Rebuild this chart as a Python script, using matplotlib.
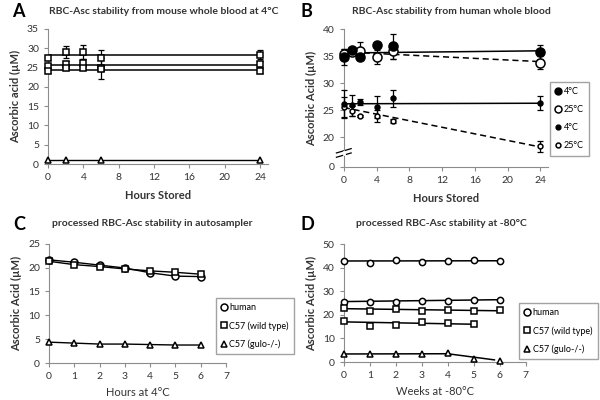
"""
RBC ascorbate stability, four panel figure.
"""

import matplotlib

matplotlib.use("Agg")
import matplotlib.pyplot as plt
from matplotlib.lines import Line2D

plt.rcParams["font.family"] = ["Lato", "DejaVu Sans"]

GRAY = "#8c8c8c"
TXT = "#333333"

# ---- panel A: mouse whole blood at 4 C
a_hours = [0, 2, 4, 6, 24]
a_sq1 = [27.6, 29.0, 29.0, 27.5, 28.3]
a_sq1_err = [0.6, 1.5, 1.8, 2.0, 1.2]
a_sq2 = [25.3, 25.8, 26.2, 24.8, 25.8]
a_sq2_err = [0.5, 0.8, 1.0, 2.7, 0.8]
a_sq3 = [24.0, 24.8, 25.0, 24.6, 24.2]
a_sq3_err = [0.5, 0.5, 0.6, 0.5, 0.5]
a_fit = [[28.2, 28.2], [25.6, 25.6], [24.3, 24.3]]
a_tri_hours = [0, 2, 6, 24]
a_tri = [1.0, 1.0, 1.0, 1.0]
a_ticks = [0, 4, 8, 12, 16, 20, 24]

# ---- panel B: human whole blood
b_hours = [0, 1, 2, 4, 6, 24]
b_big4 = [34.9, 36.1, 34.8, 37.0, 36.8, 35.7]
b_big4_err = [1.5, 0.3, 0.3, 0.3, 2.4, 1.3]
b_big25 = [35.5, 35.8, 36.0, 34.8, 35.9, 33.8]
b_big25_err = [0.8, 0.5, 1.6, 1.3, 1.5, 1.2]
b_small4 = [26.2, 25.9, 26.5, 25.6, 27.2, 26.3]
b_small4_err = [2.6, 2.0, 0.5, 2.1, 1.6, 1.3]
b_small25 = [25.6, 24.9, 24.0, 23.9, 23.0, 18.3]
b_small25_err = [1.8, 0.9, 0.2, 1.1, 0.3, 1.0]
b_fit_big4 = [35.6, 36.0]
b_fit_big25 = [35.8, 34.0]
b_fit_small4 = [26.2, 26.3]
b_fit_small25 = [25.5, 18.2]
b_yticks = [20, 25, 30, 35, 40]

# ---- panel C: autosampler
c_hours = [0, 1, 2, 3, 4, 5, 6]
c_human = [21.6, 21.1, 20.5, 19.9, 18.9, 18.2, 18.1]
c_wt = [21.3, 20.6, 20.2, 19.7, 19.3, 19.0, 18.6]
c_gulo = [4.4, 4.2, 4.0, 4.0, 3.9, 3.8, 3.8]

# ---- panel D: -80 C storage
d_weeks = [0, 1, 2, 3, 4, 5, 6]
d_human1 = [42.8, 41.8, 43.2, 42.5, 43.0, 43.2, 42.8]
d_human1_fit = [42.8, 42.9]
d_human2 = [25.3, 25.3, 25.5, 26.0, 25.8, 26.4, 26.4]
d_human2_fit = [25.6, 26.4]
d_wt1 = [23.0, 21.8, 22.3, 21.7, 22.0, 21.5, 22.0]
d_wt1_fit = [22.6, 21.7]
d_wt2_weeks = [0, 1, 2, 3, 4, 5]
d_wt2 = [17.2, 15.2, 15.8, 16.8, 16.5, 16.0]
d_wt2_fit = [17.0, 16.0]
d_gulo = [3.5, 3.4, 3.4, 3.5, 3.8, 1.3, 0.5]
d_gulo_line_weeks = [0, 4, 5.8]
d_gulo_line = [3.4, 3.5, 0.9]

legend_labels_cd = ["human", "C57 (wild type)", "C57 (gulo-/-)"]
legend_labels_b = ["4°C", "25°C", "4°C", "25°C"]


def style_axes(ax):
    for s in ("top", "right"):
        ax.spines[s].set_visible(False)
    for s in ("left", "bottom"):
        ax.spines[s].set_color(GRAY)
        ax.spines[s].set_linewidth(0.8)
    ax.tick_params(colors=GRAY, labelcolor=TXT, labelsize=7.5, length=3,
                   width=0.8, direction="out")


def pts(ax, x, y, marker, ms, fc="white", err=None, ls="none"):
    if err is not None:
        ax.errorbar(x, y, yerr=err, fmt="none", ecolor="black", elinewidth=0.9,
                    capsize=2, capthick=0.9, clip_on=False, zorder=3)
    ax.plot(x, y, linestyle=ls, marker=marker, ms=ms, mfc=fc, mec="black",
            mew=1.1, color="black", lw=1.0, clip_on=False, zorder=4)


def fit(ax, x, y, ls="-"):
    ax.plot(x, y, color="black", lw=1.1, zorder=2,
            dashes=(4, 2.5) if ls == "--" else (None, None))


fig = plt.figure(figsize=(6, 4), dpi=100)

# ---------------- A
axA = fig.add_axes([0.08, 0.59, 0.367, 0.3375])
style_axes(axA)
for f in a_fit:
    fit(axA, [a_hours[0], a_hours[-1]], f)
pts(axA, a_hours, a_sq1, "s", 4.5, err=a_sq1_err)
pts(axA, a_hours, a_sq2, "s", 4.5, err=a_sq2_err)
pts(axA, a_hours, a_sq3, "s", 4.5, err=a_sq3_err)
pts(axA, a_tri_hours, a_tri, "^", 5, ls="-")
axA.set_xlim(0, 24.9)
axA.set_ylim(0, 35)
axA.set_xticks(a_ticks)
axA.set_yticks(range(0, 36, 5))
axA.set_xlabel("Hours Stored", fontsize=8, fontweight="bold", color=TXT, labelpad=6)
axA.set_ylabel("Ascorbic acid (µM)", fontsize=8, fontweight="bold", color=TXT, labelpad=4)
fig.text(0.02, 0.972, "A", fontsize=13, fontweight="bold", va="center")
fig.text(0.272, 0.972, "RBC-Asc stability from mouse whole blood at 4°C",
         fontsize=7.5, fontweight="bold", ha="center", va="center", color=TXT)

# ---------------- B (broken y axis: 0 drawn at 14.5)
axB = fig.add_axes([0.573, 0.5825, 0.34, 0.3445])
style_axes(axB)
for f, ls in ((b_fit_big4, "-"), (b_fit_big25, "--"), (b_fit_small4, "-"), (b_fit_small25, "--")):
    fit(axB, [b_hours[0], b_hours[-1]], f, ls)
pts(axB, b_hours, b_big25, "o", 6.5, fc="white", err=b_big25_err)
pts(axB, b_hours, b_big4, "o", 6.5, fc="black", err=b_big4_err)
pts(axB, b_hours, b_small25, "o", 3.5, fc="white", err=b_small25_err)
pts(axB, b_hours, b_small4, "o", 3.5, fc="black", err=b_small4_err)
axB.set_xlim(0, 24.9)
axB.set_ylim(14.5, 40)
axB.set_xticks(a_ticks)
axB.set_yticks([14.5] + b_yticks)
axB.set_yticklabels(["0"] + [str(v) for v in b_yticks])
axB.set_xlabel("Hours Stored", fontsize=8, fontweight="bold", color=TXT, labelpad=6)
axB.set_ylabel("Ascorbic Acid (µM)", fontsize=8, fontweight="bold", color=TXT, labelpad=4)
# axis break marks
for yb in (16.7, 17.5):
    axB.plot([-0.9, 0.9], [yb - 0.4, yb + 0.4], color="black", lw=0.9, clip_on=False)
axB.plot([0, 0], [16.9, 17.3], color="white", lw=2, clip_on=False, zorder=5)
hB = [Line2D([], [], ls="none", marker="o", ms=5, mfc="black", mec="black"),
      Line2D([], [], ls="none", marker="o", ms=5, mfc="white", mec="black", mew=1.1),
      Line2D([], [], ls="none", marker="o", ms=3.5, mfc="black", mec="black"),
      Line2D([], [], ls="none", marker="o", ms=3.5, mfc="white", mec="black", mew=1.1)]
legB = axB.legend(hB, legend_labels_b, loc="upper left", bbox_to_anchor=(0.99, 0.65),
                  fontsize=6.5, frameon=True, fancybox=False, handlelength=0.6,
                  handletextpad=0.3, labelspacing=1.0, borderpad=0.6)
legB.get_frame().set_edgecolor(GRAY)
fig.text(0.5, 0.972, "B", fontsize=13, fontweight="bold", va="center")
fig.text(0.753, 0.97, "RBC-Asc stability from human whole blood",
         fontsize=7.5, fontweight="bold", ha="center", va="center", color=TXT)

# ---------------- C
axC = fig.add_axes([0.0817, 0.092, 0.295, 0.299])
style_axes(axC)
pts(axC, c_hours, c_human, "o", 5, ls="-")
pts(axC, c_hours, c_wt, "s", 4.5, ls="-")
pts(axC, c_hours, c_gulo, "^", 5, ls="-")
axC.set_xlim(0, 7)
axC.set_ylim(0, 25)
axC.set_xticks(range(0, 8))
axC.set_yticks(range(0, 26, 5))
axC.set_xlabel("Hours at 4°C", fontsize=8, color=TXT, labelpad=4)
axC.set_ylabel("Ascorbic Acid (µM)", fontsize=8, fontweight="bold", color=TXT, labelpad=4)
hCD = [Line2D([], [], ls="none", marker=m, ms=5, mfc="white", mec="black", mew=1.1)
       for m in ("o", "s", "^")]
legC = fig.legend(hCD, legend_labels_cd, loc="upper left",
                  bbox_to_anchor=(0.352, 0.2675), fontsize=6.5, frameon=True,
                  fancybox=False, handlelength=0.6, handletextpad=0.3,
                  labelspacing=1.0, borderpad=0.6)
legC.get_frame().set_edgecolor(GRAY)
fig.text(0.022, 0.44, "C", fontsize=13, fontweight="bold", va="center")
fig.text(0.253, 0.44, "processed RBC-Asc stability in autosampler",
         fontsize=7.5, fontweight="bold", ha="center", va="center", color=TXT)

# ---------------- D
axD = fig.add_axes([0.573, 0.095, 0.303, 0.295])
style_axes(axD)
fit(axD, [d_weeks[0], d_weeks[-1]], d_human1_fit)
fit(axD, [d_weeks[0], d_weeks[-1]], d_human2_fit)
fit(axD, [d_weeks[0], d_weeks[-1]], d_wt1_fit)
fit(axD, [d_wt2_weeks[0], d_wt2_weeks[-1]], d_wt2_fit)
fit(axD, d_gulo_line_weeks, d_gulo_line)
pts(axD, d_weeks, d_human1, "o", 4.5)
pts(axD, d_weeks, d_human2, "o", 4.5)
pts(axD, d_weeks, d_wt1, "s", 4.5)
pts(axD, d_wt2_weeks, d_wt2, "s", 4.5)
pts(axD, d_weeks, d_gulo, "^", 5)
axD.set_xlim(0, 7)
axD.set_ylim(0, 50)
axD.set_xticks(range(0, 8))
axD.set_yticks(range(0, 51, 10))
axD.set_xlabel("Weeks at -80°C", fontsize=8, color=TXT, labelpad=4)
axD.set_ylabel("Ascorbic Acid (µM)", fontsize=8, fontweight="bold", color=TXT, labelpad=4)
legD = fig.legend(hCD, legend_labels_cd, loc="upper left",
                  bbox_to_anchor=(0.858, 0.255), fontsize=6.5, frameon=True,
                  fancybox=False, handlelength=0.6, handletextpad=0.3,
                  labelspacing=1.0, borderpad=0.6)
legD.get_frame().set_edgecolor(GRAY)
fig.text(0.5, 0.44, "D", fontsize=13, fontweight="bold", va="center")
fig.text(0.735, 0.44, "processed RBC-Asc stability at -80°C",
         fontsize=7.5, fontweight="bold", ha="center", va="center", color=TXT)

fig.savefig("out.png", dpi=100)
